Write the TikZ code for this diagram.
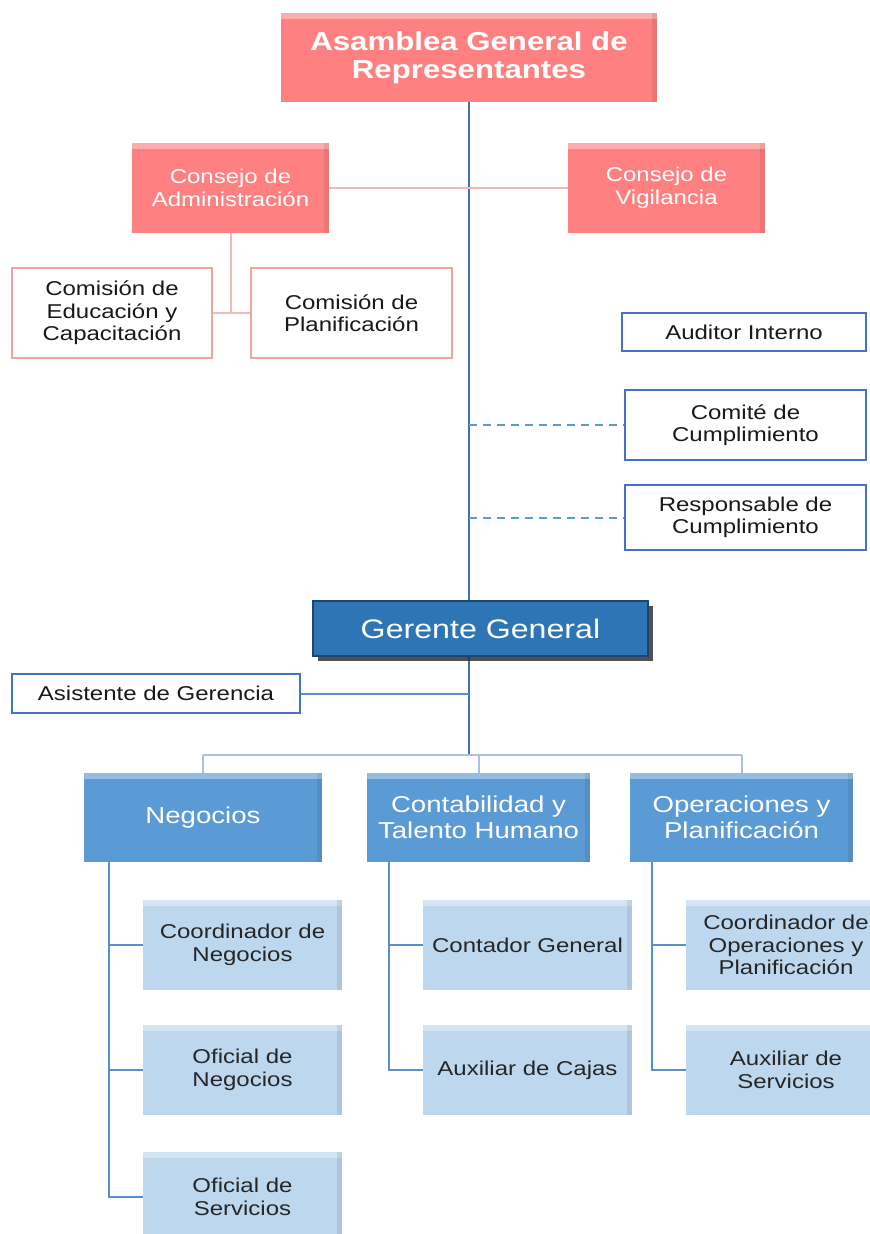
\documentclass[tikz,border=0pt]{standalone}
\usepackage{fontspec}
\setmainfont[FakeStretch=1.2]{Liberation Sans}
\usetikzlibrary{backgrounds,shadows}
\definecolor{salmon}{HTML}{FF8080}
\definecolor{pinkline}{HTML}{F0B8B8}
\definecolor{pinkedge}{HTML}{F4A3A3}
\definecolor{spineblue}{HTML}{3E72AC}
\definecolor{edgeblue}{HTML}{4472C4}
\definecolor{dashblue}{HTML}{5B9BD5}
\definecolor{gerblue}{HTML}{2E75B6}
\definecolor{headblue}{HTML}{5B9BD5}
\definecolor{subblue}{HTML}{BDD7EE}
\definecolor{linkblue}{HTML}{5B8FC9}
\definecolor{busblue}{HTML}{A8C3DF}
\tikzset{
  wd/.style={minimum width=#1*0.5pt},
  ht/.style={minimum height=#1*0.5pt},
  base/.style={rectangle, inner sep=0pt, align=center,
    font=\fontsize{10}{11.2}\selectfont},
  bevel/.style={path picture={
    \fill[white,opacity=0.35] (path picture bounding box.north west)
      rectangle ([yshift=-3pt]path picture bounding box.north east);
    \fill[black,opacity=0.08] (path picture bounding box.south east)
      rectangle ([xshift=-2.5pt]path picture bounding box.north east);}},
  redbox/.style={base, bevel, fill=salmon, text=white},
  pinkbox/.style={base, fill=white, draw=pinkedge, line width=1pt, text=black!90},
  bluebox/.style={base, fill=white, draw=edgeblue, line width=1pt, text=black!90},
  headbox/.style={base, bevel, fill=headblue, text=white,
    font=\fontsize{11.5}{13}\selectfont},
  subbox/.style={base, bevel, fill=subblue, text=black!85},
  spine/.style={draw=spineblue, line width=1.2pt},
  link/.style={draw=linkblue, line width=1pt},
  pinklink/.style={draw=pinkline, line width=1pt},
  dashlink/.style={draw=dashblue, line width=1pt, dash pattern=on 4pt off 3pt},
}
\begin{document}
\begin{tikzpicture}[x=0.5pt, y=-0.5pt]
\useasboundingbox (0,0) rectangle (870,1234);
\clip (0,0) rectangle (870,1234);

% board level
\node[redbox, wd=376, ht=89, font=\bfseries\fontsize{13}{14}\selectfont] (asm) at (469,57.5)
  {Asamblea General de\\Representantes};
\node[redbox, wd=197, ht=90] (cadm) at (230.5,188) {Consejo de\\Administración};
\node[redbox, wd=197, ht=90] (cvig) at (666.5,188) {Consejo de\\Vigilancia};
\node[pinkbox, wd=200, ht=90] (cedu) at (112,313) {Comisión de\\Educación y\\Capacitación};
\node[pinkbox, wd=201, ht=90] (cplan) at (351.5,313) {Comisión de\\Planificación};

% control units
\node[bluebox, wd=244, ht=38] (aud) at (744,332) {Auditor Interno};
\node[bluebox, wd=241, ht=70] (comite) at (745.5,425) {Comité de\\Cumplimiento};
\node[bluebox, wd=241, ht=65] (resp) at (745.5,517.5) {Responsable de\\Cumplimiento};

% management
\node[base, fill=gerblue, draw=gerblue!60!black, line width=0.8pt, text=white,
  drop shadow={shadow xshift=2.5pt, shadow yshift=-2.5pt, opacity=0.85, fill=black!80},
  wd=335, ht=55, font=\fontsize{13.4}{15}\selectfont] (ger) at (480.5,628.5) {Gerente General};
\node[bluebox, wd=288, ht=39] (asis) at (156,693.5) {Asistente de Gerencia};

% departments
\node[headbox, wd=238, ht=89] (neg) at (203,817.5) {Negocios};
\node[headbox, wd=223, ht=89] (cont) at (478.5,817.5) {Contabilidad y\\Talento Humano};
\node[headbox, wd=223, ht=89] (oper) at (741.5,817.5) {Operaciones y\\Planificación};

% positions
\node[subbox, wd=199, ht=90] (n1) at (242.5,945) {Coordinador de\\Negocios};
\node[subbox, wd=199, ht=90] (n2) at (242.5,1070) {Oficial de\\Negocios};
\node[subbox, wd=199, ht=90] (n3) at (242.5,1197) {Oficial de\\Servicios};
\node[subbox, wd=209, ht=90] (c1) at (527.5,945) {Contador General};
\node[subbox, wd=209, ht=90] (c2) at (527.5,1070) {Auxiliar de Cajas};
\node[subbox, wd=200, ht=90] (o1) at (786,945) {Coordinador de\\Operaciones y\\Planificación};
\node[subbox, wd=200, ht=90] (o2) at (786,1070) {Auxiliar de\\Servicios};

\coordinate (bus) at (469,755);
\coordinate (nsp) at ([xshift=12.5pt]neg.south west);
\coordinate (csp) at ([xshift=11pt]cont.south west);
\coordinate (osp) at ([xshift=11pt]oper.south west);

\begin{scope}[on background layer]
  % main line of authority
  \draw[spine] (asm.south) -- (bus);
  \draw[pinklink] (cadm.east) -- (cvig.west);
  \draw[pinklink] (cadm.south) -- (cadm.south |- cedu.east);
  \draw[pinklink] (cedu.east) -- (cplan.west);
  \draw[dashlink] (asm.south |- comite.west) -- (comite.west);
  \draw[dashlink] (asm.south |- resp.west) -- (resp.west);
  \draw[link] (asis.east) -- (asm.south |- asis.east);
  % department bus
  \draw[draw=busblue, line width=1pt] (neg.north |- bus) -- (oper.north |- bus);
  \draw[draw=busblue, line width=1pt] (neg.north |- bus) -- (neg.north);
  \draw[draw=busblue, line width=1pt] (cont.north |- bus) -- (cont.north);
  \draw[draw=busblue, line width=1pt] (oper.north |- bus) -- (oper.north);
  % branches
  \draw[link] (nsp) |- (n3.west);
  \draw[link] (nsp |- n1.west) -- (n1.west);
  \draw[link] (nsp |- n2.west) -- (n2.west);
  \draw[link] (csp) |- (c2.west);
  \draw[link] (csp |- c1.west) -- (c1.west);
  \draw[link] (osp) |- (o2.west);
  \draw[link] (osp |- o1.west) -- (o1.west);
\end{scope}
\end{tikzpicture}
\end{document}
